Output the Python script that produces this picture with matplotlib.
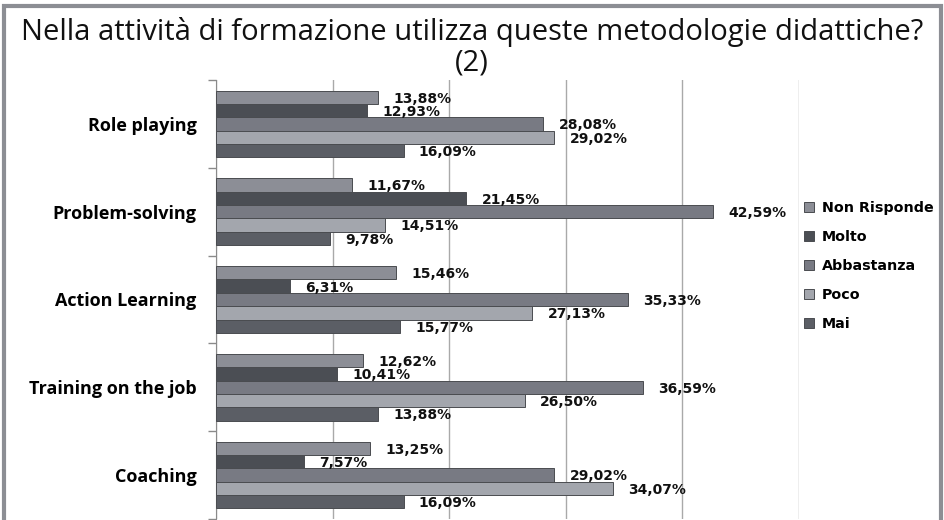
import numpy as np
import matplotlib.pyplot as plt
from matplotlib.patches import Rectangle

# dati
categorie = ['Role playing', 'Problem-solving', 'Action Learning',
             'Training on the job', 'Coaching']
serie = ['Non Risponde', 'Molto', 'Abbastanza', 'Poco', 'Mai']
non_risponde = [13.88, 11.67, 15.46, 12.62, 13.25]
molto = [12.93, 21.45, 6.31, 10.41, 7.57]
abbastanza = [28.08, 42.59, 35.33, 36.59, 29.02]
poco = [29.02, 14.51, 27.13, 26.50, 34.07]
mai = [16.09, 9.78, 15.77, 13.88, 16.09]

valori = [non_risponde, molto, abbastanza, poco, mai]
colori = ['#8C8E96', '#4B4E54', '#787A83', '#A3A6AD', '#5B5E65']

fig = plt.figure(figsize=(9.44, 5.2), dpi=100)
ax = fig.add_axes([216 / 944, 1 / 520, (799 - 216) / 944, (520 - 81) / 520])

y = np.arange(len(categorie))
h = 0.152
for i, (nome, vals) in enumerate(zip(serie, valori)):
    pos = y + (i - 2) * h
    ax.barh(pos, vals, height=h, color=colori[i], edgecolor='#4a4c50',
            linewidth=0.7, label=nome, zorder=3)
    for yy, v in zip(pos, vals):
        ax.annotate(f'{v:.2f}%'.replace('.', ','), (v, yy), xytext=(11, -1),
                    textcoords='offset points', va='center', ha='left',
                    fontsize=10, fontweight='bold', color='#111111', zorder=4)

ax.set_xlim(0, 50)
ax.set_ylim(len(categorie) - 0.5, -0.5)
ax.set_xticks(np.arange(0, 51, 10))
ax.xaxis.grid(True, color='#A9A9A9', linewidth=1, zorder=0)
ax.tick_params(axis='x', length=0, labelbottom=False)

# tick ai confini dei gruppi, etichette al centro
ax.set_yticks(np.arange(-0.5, len(categorie), 1.0))
ax.set_yticklabels([])
ax.set_yticks(y, minor=True)
ax.set_yticklabels(categorie, minor=True, fontsize=13, fontweight='bold',
                   family=['Open Sans', 'DejaVu Sans'])
ax.tick_params(axis='y', which='major', length=6, color='#8a8a8a', width=1)
ax.tick_params(axis='y', which='minor', length=0, pad=14)

for s in ['top', 'right', 'bottom']:
    ax.spines[s].set_visible(False)
ax.spines['left'].set_color('#8a8a8a')

ax.legend(loc='center left', bbox_to_anchor=(798 / 944, 1 - 266 / 520),
          bbox_transform=fig.transFigure, frameon=False,
          prop={'weight': 'bold', 'size': 10.3}, handlelength=0.75,
          handleheight=0.75, labelspacing=1.05, handletextpad=0.5,
          borderaxespad=0)

fig.text(0.5, 1 - 32 / 520, 'Nella attività di formazione utilizza queste metodologie didattiche?',
         ha='center', va='center', fontsize=21, family=['Open Sans', 'DejaVu Sans'],
         color='#111111')
fig.text(0.5, 1 - 63 / 520, '(2)', ha='center', va='center', fontsize=21,
         family=['Open Sans', 'DejaVu Sans'], color='#111111')

# cornice grigia
fig.patches.append(Rectangle((4 / 944, -0.05), 937 / 944, 1 - 6 / 520 + 0.05,
                             transform=fig.transFigure, fill=False,
                             edgecolor='#8C8E94', linewidth=3))

fig.savefig('out.png', dpi=100)
